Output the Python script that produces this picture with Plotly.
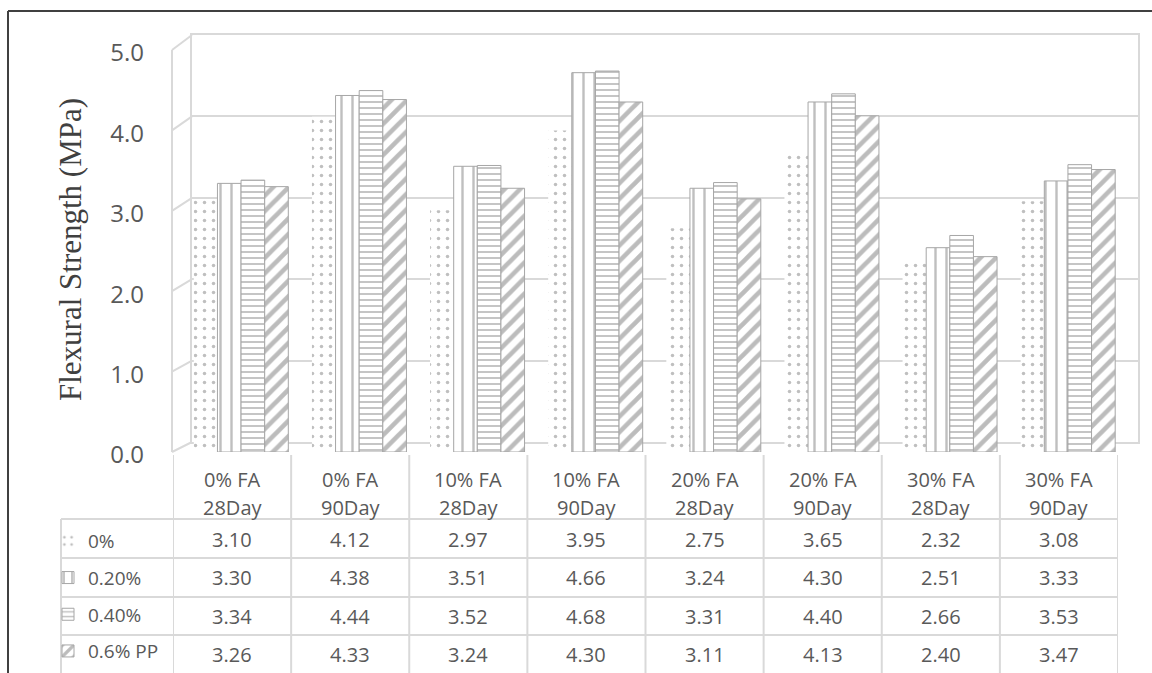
import plotly.graph_objects as go

# ---- data -------------------------------------------------------------
categories = ["0% FA 28Day", "0% FA 90Day", "10% FA 28Day", "10% FA 90Day",
              "20% FA 28Day", "20% FA 90Day", "30% FA 28Day", "30% FA 90Day"]
cat_line1 = ["0% FA", "0% FA", "10% FA", "10% FA", "20% FA", "20% FA", "30% FA", "30% FA"]
cat_line2 = ["28Day", "90Day", "28Day", "90Day", "28Day", "90Day", "28Day", "90Day"]

series_names = ["0%", "0.20%", "0.40%", "0.6% PP"]
pp_0 = [3.10, 4.12, 2.97, 3.95, 2.75, 3.65, 2.32, 3.08]
pp_020 = [3.30, 4.38, 3.51, 4.66, 3.24, 4.30, 2.51, 3.33]
pp_040 = [3.34, 4.44, 3.52, 4.68, 3.31, 4.40, 2.66, 3.53]
pp_060 = [3.26, 4.33, 3.24, 4.30, 3.11, 4.13, 2.40, 3.47]
series_values = [pp_0, pp_020, pp_040, pp_060]

y_ticks = [0, 1, 2, 3, 4, 5]
y_title = "Flexural Strength (MPa)"

# ---- page geometry (pixels) ------------------------------------------
W, H = 1152, 673


def px(x):
    return x / W


def py(y):
    return 1 - y / H


TEXT = "#595959"
GRID = "#d9d9d9"
SANS = "Open Sans"

patterns = [
    dict(shape=".", fgcolor="#7f7f7f", bgcolor="white", size=9, solidity=0.12),
    dict(shape="|", fgcolor="#808080", bgcolor="white", size=11, solidity=0.22),
    dict(shape="-", fgcolor="#7f7f7f", bgcolor="white", size=6, solidity=0.3),
    dict(shape="/", fgcolor="#7a7a7a", bgcolor="white", size=11, solidity=0.42),
]
edge_w = [0, 1, 1, 1]

fig = go.Figure()

# back wall of the chart (subplot x/y) - gridlines only
fig.add_trace(go.Scatter(x=[0, 1], y=[0, 0], mode="markers",
                         marker=dict(opacity=0), hoverinfo="skip",
                         showlegend=False, xaxis="x", yaxis="y"))

# bars (subplot x2/y2)
for name, vals, pat, lw in zip(series_names, series_values, patterns, edge_w):
    fig.add_trace(go.Bar(
        x=categories, y=vals, name=name, legendgroup=name,
        marker=dict(color="white", pattern=pat,
                    line=dict(color="#a6a6a6", width=lw)),
        xaxis="x2", yaxis="y2", hoverinfo="skip",
    ))

# value axis labels and data table columns (subplot x3/y3)
fig.add_trace(go.Scatter(x=categories, y=[None] * len(categories), mode="markers",
                         marker=dict(opacity=0), hoverinfo="skip",
                         showlegend=False, xaxis="x3", yaxis="y3"))

# ---- 3D-like frame: left side wall --------------------------------------
shapes = []


def back_y(v):
    return 442 - 81.4 * v


def front_y(v):
    return 452 - 80.4 * v


for v in y_ticks:
    shapes.append(dict(type="line", xref="paper", yref="paper",
                       x0=px(172), y0=py(front_y(v)), x1=px(192), y1=py(back_y(v)),
                       line=dict(color=GRID, width=2), layer="below"))
shapes.append(dict(type="line", xref="paper", yref="paper",
                   x0=px(172), y0=py(front_y(y_ticks[0])), x1=px(172), y1=py(front_y(y_ticks[-1])),
                   line=dict(color=GRID, width=2), layer="below"))

# ---- data table grid ----------------------------------------------------
row_lines = [519, 558, 597, 635]
row_centers = [539, 577, 616, 654]
for yl in row_lines:
    shapes.append(dict(type="line", xref="paper", yref="paper",
                       x0=px(61), x1=px(1118), y0=py(yl), y1=py(yl),
                       line=dict(color=GRID, width=2)))
for k in range(len(categories) + 1):
    shapes.append(dict(type="line", xref="x3", yref="paper",
                       x0=k - 0.5, x1=k - 0.5, y0=py(455), y1=0,
                       line=dict(color=GRID, width=2)))
shapes.append(dict(type="line", xref="paper", yref="paper",
                   x0=px(61), x1=px(61), y0=py(519), y1=0,
                   line=dict(color=GRID, width=2)))

# outer chart border
shapes.append(dict(type="line", xref="paper", yref="paper",
                   x0=px(8), x1=px(8), y0=py(11), y1=0,
                   line=dict(color="#404040", width=2)))
shapes.append(dict(type="line", xref="paper", yref="paper",
                   x0=px(8), x1=1, y0=py(11), y1=py(11),
                   line=dict(color="#404040", width=2)))

# ---- table text ------------------------------------------------------------
cell_font = dict(family=SANS, size=20, color=TEXT)
annotations = []
for c, l1, l2 in zip(categories, cat_line1, cat_line2):
    annotations.append(dict(x=c, xref="x3", y=py(479), yref="paper", text=l1,
                            xanchor="center", yanchor="middle",
                            showarrow=False, font=cell_font))
    annotations.append(dict(x=c, xref="x3", y=py(507), yref="paper", text=l2,
                            xanchor="center", yanchor="middle",
                            showarrow=False, font=cell_font))
for vals, yc in zip(series_values, row_centers):
    for c, v in zip(categories, vals):
        annotations.append(dict(x=c, xref="x3", y=py(yc), yref="paper", text=f"{v:.2f}",
                                xanchor="center", yanchor="middle",
                                showarrow=False, font=cell_font))

annotations.append(dict(x=px(70), y=py(250), xref="paper", yref="paper", text=y_title,
                        xanchor="center", yanchor="middle",
                        textangle=-90, showarrow=False,
                        font=dict(family="Liberation Serif", size=31, color="#404040")))

fig.update_layout(
    width=W, height=H, margin=dict(l=0, r=0, t=0, b=0, autoexpand=False),
    paper_bgcolor="white", plot_bgcolor="rgba(0,0,0,0)",
    barmode="group", bargap=0.2, bargroupgap=0,
    showlegend=True,
    legend=dict(x=px(48), xanchor="left", y=py(522), yanchor="top",
                font=dict(family=SANS, size=19, color=TEXT),
                bgcolor="rgba(0,0,0,0)", tracegroupgap=9, itemwidth=30,
                traceorder="grouped", itemclick=False, itemdoubleclick=False),
    xaxis=dict(domain=[px(192), px(1138)], range=[0, 1], anchor="y",
               showgrid=False, zeroline=False, showticklabels=False, ticks="",
               showline=True, mirror=True, linecolor=GRID, linewidth=2),
    yaxis=dict(domain=[py(back_y(0)), py(back_y(5))], range=[0, 5], anchor="x",
               tickvals=y_ticks, showgrid=True, gridcolor=GRID, gridwidth=2,
               zeroline=False, showticklabels=False, ticks="",
               showline=True, mirror=True, linecolor=GRID, linewidth=2),
    xaxis2=dict(domain=[px(182), px(1127)], anchor="y2", type="category",
                range=[-0.5, len(categories) - 0.5], visible=False),
    yaxis2=dict(domain=[py(452), py(45)], range=[0, 5], anchor="x2", visible=False),
    xaxis3=dict(domain=[px(173), px(1118)], anchor="y3", type="category",
                range=[-0.5, len(categories) - 0.5], visible=False),
    yaxis3=dict(domain=[py(455), py(53)], range=[0, 5], anchor="free", position=px(144),
                tickvals=y_ticks, tickformat=".1f", showgrid=False, zeroline=False,
                showline=False, ticks="",
                tickfont=dict(family=SANS, size=24, color=TEXT)),
    shapes=shapes, annotations=annotations,
)

fig.write_html("out.html")
